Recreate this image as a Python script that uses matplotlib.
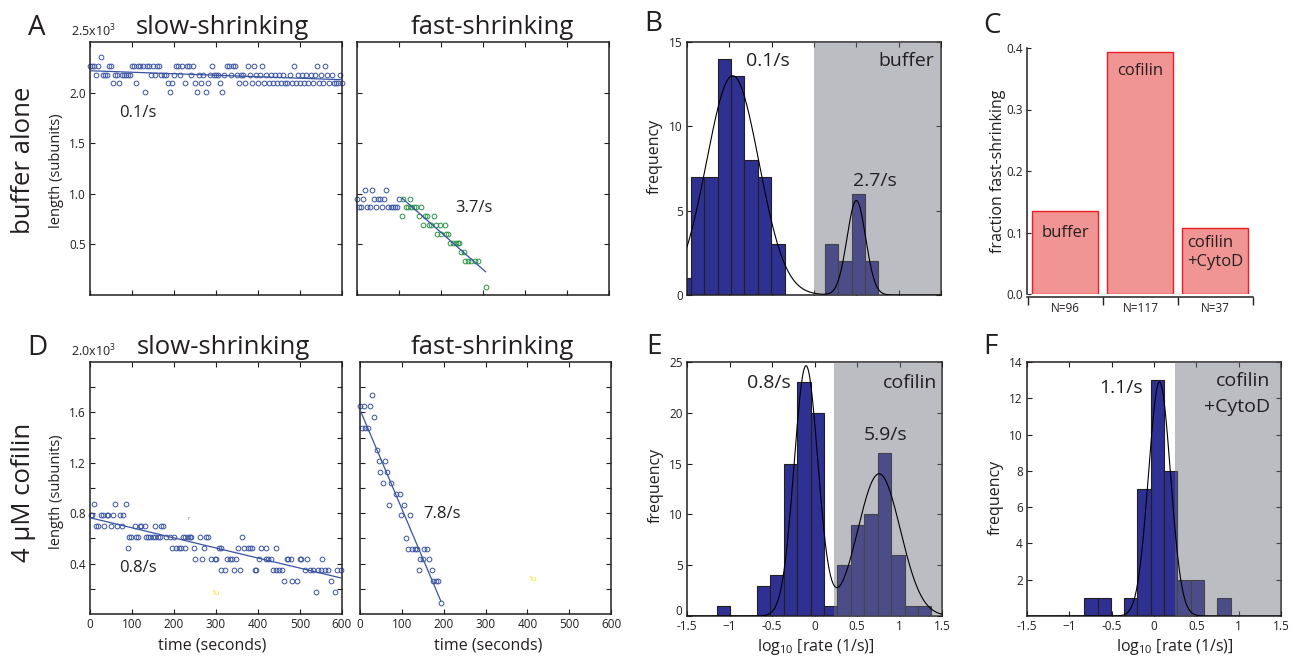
import matplotlib.pyplot as plt
import numpy as np

plt.rcParams["font.family"] = ["Open Sans", "DejaVu Sans"]
plt.rcParams["mathtext.default"] = "regular"

INK = "#231f20"
BLUE = "#3953a4"
GREEN = "#2b9347"
BAR_BLUE = "#2e3192"
SHADE = "#6e6e7d"

# ---- A: buffer alone, filament length traces (subunits) ----
a_levels = [2003, 2090, 2177, 2264, 2351]
a_slow_t = np.arange(0, 605, 5)
a_slow_idx = [3, 3, 3, 2, 3, 4, 2, 2, 2, 3,
              3, 1, 2, 2, 1, 2, 2, 2, 2, 2,
              3, 3, 1, 3, 3, 3, 0, 3, 3, 2,
              3, 2, 3, 3, 2, 2, 2, 1, 0, 1,
              2, 3, 3, 2, 3, 1, 3, 3, 2, 3,
              1, 0, 2, 1, 2, 0, 1, 2, 3, 2,
              2, 2, 1, 0, 2, 3, 3, 2, 3, 3,
              2, 1, 2, 2, 1, 3, 2, 1, 3, 2,
              1, 2, 3, 1, 2, 1, 2, 1, 2, 1,
              2, 1, 2, 1, 1, 2, 1, 3, 1, 2,
              1, 2, 1, 2, 1, 2, 1, 2, 3, 1,
              2, 1, 3, 2, 1, 2, 1, 1, 1, 2,
              1]
a_slow_fit = (2216, -0.148, 0, 600)  # intercept, slope, t0, t1

a_fast_pre_t = [0, 5, 10, 15, 20, 25, 30, 35, 40, 45, 50,
                55, 60, 65, 70, 75, 80, 85, 90, 95, 100]
a_fast_pre_len = [949, 866, 866, 949, 1038, 866, 866, 1038, 949, 866, 949,
                  949, 866, 949, 1038, 866, 866, 866, 866, 866, 949]
a_fast_t = [106, 110, 116, 121, 127, 129, 135, 141, 147, 152, 157, 163,
            167, 171, 177, 183, 189, 191, 197, 201, 209, 211, 217, 221,
            229, 235, 241, 244, 248, 254, 256, 264, 272, 280, 288, 308]
a_fast_len = [781, 949, 866, 866, 949, 866, 866, 866, 781, 866, 692, 781,
              781, 692, 692, 781, 692, 603, 692, 603, 692, 603, 603, 517,
              517, 517, 517, 517, 428, 428, 339, 339, 339, 339, 339, 82]
a_fast_fit = (1350, -3.66, 108, 306)

# ---- D: 4 uM cofilin traces ----
d_levels = [870, 783, 696, 609, 522, 435, 348, 261, 174]
d_slow_times = [
    [10, 60, 85],
    [2, 5, 25, 31, 41, 44, 55, 71, 79],
    [15, 19, 33, 49, 65, 75, 106, 118, 122, 130, 154, 168, 174],
    [94, 98, 110, 114, 134, 138, 142, 150, 154, 162, 166, 182, 190, 200,
     221, 225, 233, 237, 241, 261, 277, 281, 362],
    [90, 195, 205, 211, 217, 225, 248, 271, 306, 311, 352, 367, 376, 380,
     386, 408, 418, 444],
    [251, 267, 287, 297, 301, 327, 333, 337, 348, 402, 420, 424, 432, 468,
     471, 478, 499, 503, 517, 553],
    [311, 321, 342, 356, 392, 396, 436, 444, 449, 456, 511, 523, 531, 543,
     551, 559, 567, 587, 598],
    [462, 481, 494, 573],
    [537, 583],
]
d_slow_fit = (764, -0.8, 0, 600)

d_fast_t = [0, 10, 24, 29, 34, 4, 12, 20, 40, 45, 60, 49, 65, 54, 74, 85, 95,
            69, 105, 99, 119, 110, 115, 125, 131, 137, 153, 160, 143, 151,
            165, 140, 171, 175, 181, 187, 194]
d_fast_len = [1652, 1652, 1652, 1739, 1563, 1476, 1476, 1476, 1304, 1217,
              1217, 1128, 1128, 1041, 1041, 954, 954, 867, 867, 783, 783, 606,
              519, 519, 519, 519, 519, 519, 435, 435, 435, 348, 348, 258, 258,
              258, 85]
d_fast_fit = (1621, -7.86, 0, 193)

# ---- histograms of log10 rate ----
b_edge0, b_width = -1.611, 0.158
b_counts = [1, 7, 7, 14, 13, 8, 7, 3, 0, 0, 0, 3, 2, 6, 2]
b_fit = [(13.0, -0.96, 0.31), (5.6, 0.50, 0.11)]
b_shade = 0.0

e_edge0, e_width = -1.152, 0.158
e_counts = [1, 0, 0, 3, 4, 15, 23, 20, 1, 5, 9, 10, 16, 6, 1, 1]
e_fit = [(24.6, -0.10, 0.14), (14.0, 0.76, 0.25)]
e_shade = 0.232

f_edge0, f_width = -0.823, 0.157
f_counts = [1, 1, 0, 1, 7, 13, 8, 2, 2, 0, 1]
f_fit = [(12.9, 0.065, 0.13)]
f_shade = 0.244

# ---- C: fraction fast-shrinking ----
c_labels = ["buffer", "cofilin", "cofilin\n+CytoD"]
c_fraction = [0.135, 0.3935, 0.1075]
c_n = [96, 117, 37]

W, H = 1293, 656
fig = plt.figure(figsize=(W / 100, H / 100), dpi=100)


def axes_px(x0, y0, x1, y1):
    return fig.add_axes([x0 / W, 1 - y1 / H, (x1 - x0) / W, (y1 - y0) / H])


def ftext(x, y, s, **kw):
    kw.setdefault("color", INK)
    return fig.text(x / W, 1 - y / H, s, **kw)


def frame(ax):
    for s in ax.spines.values():
        s.set_linewidth(1.1)
        s.set_color(INK)
    ax.tick_params(direction="in", length=3.5, width=0.8, top=True, right=True,
                   labelsize=8.5, labelcolor=INK, color=INK, pad=3)


def trace_axes(ax, ymax, step, label_step, show_y, show_x):
    frame(ax)
    ax.set_xlim(0, 600)
    ax.set_ylim(0, ymax)
    ax.set_xticks(range(0, 601, 100))
    yt = list(range(step, ymax, step))
    ax.set_yticks(yt)
    if show_y:
        ax.set_yticklabels([f"{v / 1000:.1f}" if v % label_step == 0 else ""
                            for v in yt])
    else:
        ax.set_yticklabels([])
    if not show_x:
        ax.set_xticklabels([])


def fit_line(ax, fit):
    b0, slope, t0, t1 = fit
    t = np.array([t0, t1])
    ax.plot(t, b0 + slope * t, color=BLUE, lw=0.9, zorder=3)


def circles(ax, t, y, color):
    ax.plot(t, y, "o", ls="none", mfc="none", mec=color, ms=3.4, mew=0.7,
            zorder=2, clip_on=False)


def histogram(ax, edge0, width, counts, fit, shade, ymax):
    frame(ax)
    edges = edge0 + width * np.arange(len(counts))
    counts = np.asarray(counts)
    keep = counts > 0
    ax.bar(edges[keep], counts[keep], width=width, align="edge",
           color=BAR_BLUE, edgecolor=INK, lw=0.8, zorder=2)
    ax.axvspan(shade, 1.5, color=SHADE, alpha=0.46, lw=0, zorder=3)
    x = np.linspace(-1.5, 1.5, 600)
    y = sum(a * np.exp(-(x - m) ** 2 / (2 * s ** 2)) for a, m, s in fit)
    ax.plot(x, y, color="black", lw=0.8, zorder=4)
    ax.set_xlim(-1.5, 1.5)
    ax.set_ylim(0, ymax)
    ax.set_xticks([-1.5, -1, -0.5, 0, 0.5, 1, 1.5])


# ---- A ----
ax = axes_px(90, 42, 342, 295)
trace_axes(ax, 2500, 500, 500, True, False)
circles(ax, a_slow_t, [a_levels[i] for i in a_slow_idx], BLUE)
fit_line(ax, a_slow_fit)
ax.text(114, 1800, "0.1/s", fontsize=12, color=INK, ha="center", va="center")
ax.text(0.015, 1.012, r"2.5x10$^3$", transform=ax.transAxes, fontsize=9,
        color=INK, ha="center", va="bottom")

ax = axes_px(357, 42, 609, 295)
trace_axes(ax, 2500, 500, 500, False, False)
circles(ax, a_fast_pre_t, a_fast_pre_len, BLUE)
circles(ax, a_fast_t, a_fast_len, GREEN)
fit_line(ax, a_fast_fit)
ax.text(279, 860, "3.7/s", fontsize=12, color=INK, ha="center", va="center")

# ---- D ----
ax = axes_px(90, 362, 342, 614)
trace_axes(ax, 2000, 200, 400, True, True)
for lev, ts in zip(d_levels, d_slow_times):
    circles(ax, ts, [lev] * len(ts), BLUE)
fit_line(ax, d_slow_fit)
ax.text(114, 364, "0.8/s", fontsize=12, color=INK, ha="center", va="center")
ax.text(300, 165, "1u", fontsize=5, color="#f2e600", ha="center", va="center")
ax.text(235, 760, "r", fontsize=4, color="#666666", ha="center", va="center")
ax.text(0.015, 1.012, r"2.0x10$^3$", transform=ax.transAxes, fontsize=9,
        color=INK, ha="center", va="bottom")

ax = axes_px(360, 362, 611, 614)
trace_axes(ax, 2000, 200, 400, False, True)
circles(ax, d_fast_t, d_fast_len, BLUE)
fit_line(ax, d_fast_fit)
ax.text(195, 790, "7.8/s", fontsize=12, color=INK, ha="center", va="center")
ax.text(412, 270, "1u", fontsize=5, color="#f2e600", ha="center", va="center")

# ---- B ----
ax = axes_px(687, 42, 941, 295)
histogram(ax, b_edge0, b_width, b_counts, b_fit, b_shade, 15)
ax.set_yticks([0, 5, 10, 15])
ax.set_xticklabels([])
ax.text(-0.55, 13.9, "0.1/s", fontsize=14, color=INK, ha="center",
        va="center", zorder=5)
ax.text(1.42, 13.9, "buffer", fontsize=14, color=INK, ha="right",
        va="center", zorder=5)
ax.text(0.72, 6.76, "2.7/s", fontsize=14, color=INK, ha="center",
        va="center", zorder=5)

# ---- E ----
ax = axes_px(687, 362, 942, 616)
histogram(ax, e_edge0, e_width, e_counts, e_fit, e_shade, 25)
ax.set_yticks([0, 5, 10, 15, 20, 25])
ax.set_yticklabels(["", "5", "10", "15", "20", "25"])
# the "0" sits just above the "-1.5" of the x axis, as in the original
ax.annotate("0", xy=(0, 0), xycoords=("axes fraction", "data"),
            xytext=(-3.5, 3.5), textcoords="offset points", ha="right",
            va="center", fontsize=8.5, color=INK)
ax.set_xticklabels(["-1.5", "\u22121", "-0.5", "0", "0.5", "1", "1.5"])
ax.text(-0.54, 22.9, "0.8/s", fontsize=14, color=INK, ha="center",
        va="center", zorder=5)
ax.text(1.44, 22.9, "cofilin", fontsize=14, color=INK, ha="right",
        va="center", zorder=5)
ax.text(0.84, 17.8, "5.9/s", fontsize=14, color=INK, ha="center",
        va="center", zorder=5)

# ---- F ----
ax = axes_px(1027, 362, 1281, 616)
histogram(ax, f_edge0, f_width, f_counts, f_fit, f_shade, 14)
ax.set_yticks([2, 4, 6, 8, 10, 12, 14])
ax.set_xticklabels(["-1.5", "\u22121", "-0.5", "0", "0.5", "1", "1.5"])
ax.text(-0.39, 12.57, "1.1/s", fontsize=14, color=INK, ha="center",
        va="center", zorder=5)
ax.text(1.37, 12.95, "cofilin", fontsize=14, color=INK, ha="right",
        va="center", zorder=5)
ax.text(1.37, 11.5, "+CytoD", fontsize=14, color=INK, ha="right",
        va="center", zorder=5)

# ---- C ----
ax = axes_px(1027, 48, 1253, 294)
for side in ("top", "right"):
    ax.spines[side].set_visible(False)
for side in ("left", "bottom"):
    ax.spines[side].set_linewidth(1.1)
    ax.spines[side].set_color(INK)
ax.spines["bottom"].set_position(("outward", 2))
xc = np.arange(len(c_fraction))
ax.bar(xc, c_fraction, width=0.88, color="#f19594", edgecolor="#ed1c24",
       lw=1.0)
ax.set_xlim(-0.513, 2.5)
ax.set_ylim(0, 0.4)
ax.set_yticks([0, 0.1, 0.2, 0.3, 0.4])
ax.set_yticklabels(["0.0", "0.1", "0.2", "0.3", "0.4"])
ax.tick_params(axis="y", direction="in", length=3, width=0.8, labelsize=8.5,
               labelcolor=INK, color=INK, pad=3)
ax.set_xticks([-0.5, 0.5, 1.5, 2.5])
ax.set_xticklabels([])
ax.set_xticks(xc, minor=True)
ax.set_xticklabels([f"N={n}" for n in c_n], minor=True)
ax.tick_params(axis="x", which="major", direction="out", length=6, width=1.0,
               color=INK)
ax.tick_params(axis="x", which="minor", length=0, labelsize=8.5,
               labelcolor=INK, pad=4)
ax.text(0, 0.1, c_labels[0], fontsize=12, color=INK, ha="center", va="center")
ax.text(1, 0.363, c_labels[1], fontsize=12, color=INK, ha="center",
        va="center")
ax.text(2 - 0.38, 0.068, c_labels[2], fontsize=12, color=INK, ha="left",
        va="center", linespacing=1.25)

# ---- figure labels ----
for letter, x, y in [("A", 37, 28), ("B", 653, 24), ("C", 992, 26),
                     ("D", 37, 348), ("E", 654, 347), ("F", 990, 347)]:
    ftext(x, y, letter, fontsize=20, ha="center", va="center")

ftext(222, 34, "slow-shrinking", fontsize=18.5, ha="center", va="baseline")
ftext(492, 34, "fast-shrinking", fontsize=18.5, ha="center", va="baseline")
ftext(223, 354, "slow-shrinking", fontsize=18.5, ha="center", va="baseline")
ftext(492, 354, "fast-shrinking", fontsize=18.5, ha="center", va="baseline")

ftext(23, 160, "buffer alone", fontsize=18.5, rotation=90, ha="center",
      va="center")
ftext(23, 492, "4 \u03bcM cofilin", fontsize=18.5, rotation=90, ha="center",
      va="center")

ftext(57, 171, "length (subunits)", fontsize=10.5, rotation=90, ha="center",
      va="center")
ftext(57, 492, "length (subunits)", fontsize=10.5, rotation=90, ha="center",
      va="center")
ftext(655, 156, "frequency", fontsize=11.5, rotation=90, ha="center",
      va="center")
ftext(656, 485, "frequency", fontsize=11.5, rotation=90, ha="center",
      va="center")
ftext(996, 497, "frequency", fontsize=11.5, rotation=90, ha="center",
      va="center")
ftext(998, 171, "fraction fast-shrinking", fontsize=11.5, rotation=90,
      ha="center", va="center")

ftext(212, 645, "time (seconds)", fontsize=11.5, ha="center", va="center")
ftext(488, 645, "time (seconds)", fontsize=11.5, ha="center", va="center")
ftext(816, 647, r"log$_{10}$ [rate (1/s)]", fontsize=11.5, ha="center",
      va="center")
ftext(1175, 647, r"log$_{10}$ [rate (1/s)]", fontsize=11.5, ha="center",
      va="center")

fig.savefig("out.png", dpi=100)
